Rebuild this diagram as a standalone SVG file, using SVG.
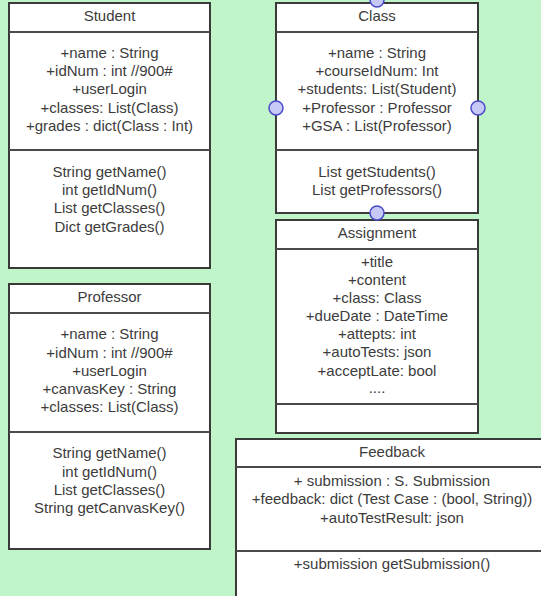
<svg xmlns="http://www.w3.org/2000/svg" width="541" height="596" viewBox="0 0 541 596">
<style>
.bg{fill:#c0f5ca}
.box{fill:#fff;stroke:#3a3a3a;stroke-width:2}
.div{stroke:#4a4a4a;stroke-width:2}
text{font-family:"Liberation Sans",Arial,sans-serif;font-size:15px;fill:#3c3c3c;text-anchor:middle}
.pt{fill:#c6c8f6;stroke:#4a4ac8;stroke-width:1.5}
</style>
<rect class="bg" x="0" y="0" width="541" height="596"/>
<g id="connectors"></g>
<g id="student">
<rect class="box" x="9" y="3" width="201" height="265"/>
<line class="div" x1="9" y1="32" x2="210" y2="32"/>
<line class="div" x1="9" y1="150" x2="210" y2="150"/>
<text x="109.5" y="21">Student</text>
<text x="109.5" y="58">+name : String</text>
<text x="109.5" y="76">+idNum : int //900#</text>
<text x="109.5" y="94">+userLogin</text>
<text x="109.5" y="113">+classes: List(Class)</text>
<text x="109.5" y="131">+grades : dict(Class : Int)</text>
<text x="109.5" y="177">String getName()</text>
<text x="109.5" y="195">int getIdNum()</text>
<text x="109.5" y="213">List getClasses()</text>
<text x="109.5" y="232">Dict getGrades()</text>
</g>
<g id="professor">
<rect class="box" x="9" y="284" width="201" height="265"/>
<line class="div" x1="9" y1="313" x2="210" y2="313"/>
<line class="div" x1="9" y1="432" x2="210" y2="432"/>
<text x="109.5" y="302">Professor</text>
<text x="109.5" y="339">+name : String</text>
<text x="109.5" y="358">+idNum : int //900#</text>
<text x="109.5" y="376">+userLogin</text>
<text x="109.5" y="394">+canvasKey : String</text>
<text x="109.5" y="412">+classes: List(Class)</text>
<text x="109.5" y="458">String getName()</text>
<text x="109.5" y="477">int getIdNum()</text>
<text x="109.5" y="495">List getClasses()</text>
<text x="109.5" y="513">String getCanvasKey()</text>
</g>
<g id="class">
<rect class="box" x="276" y="3" width="202" height="210"/>
<line class="div" x1="276" y1="32" x2="478" y2="32"/>
<line class="div" x1="276" y1="150" x2="478" y2="150"/>
<text x="377" y="21">Class</text>
<text x="377" y="58">+name : String</text>
<text x="377" y="76">+courseIdNum: Int</text>
<text x="377" y="94">+students: List(Student)</text>
<text x="377" y="113">+Professor  : Professor</text>
<text x="377" y="131">+GSA : List(Professor)</text>
<text x="377" y="177">List getStudents()</text>
<text x="377" y="195">List getProfessors()</text>
</g>
<g id="assignment">
<rect class="box" x="276" y="220" width="202" height="213"/>
<line class="div" x1="276" y1="249" x2="478" y2="249"/>
<line class="div" x1="276" y1="404" x2="478" y2="404"/>
<text x="377" y="238">Assignment</text>
<text x="377" y="267">+title</text>
<text x="377" y="285">+content</text>
<text x="377" y="303">+class: Class</text>
<text x="377" y="321">+dueDate : DateTime</text>
<text x="377" y="339">+attepts: int</text>
<text x="377" y="357">+autoTests: json</text>
<text x="377" y="376">+acceptLate: bool</text>
<text x="377" y="393">....</text>
</g>
<g id="feedback">
<rect class="box" x="236" y="439" width="312" height="170"/>
<line class="div" x1="236" y1="467" x2="548" y2="467"/>
<line class="div" x1="236" y1="551" x2="548" y2="551"/>
<text x="392" y="457">Feedback</text>
<text x="392" y="486">+ submission : S. Submission</text>
<text x="392" y="504">+feedback: dict (Test Case : (bool, String))</text>
<text x="392" y="523">+autoTestResult: json</text>
<text x="392" y="569">+submission getSubmission()</text>
</g>
<g id="class-points">
<circle class="pt" cx="377" cy="0" r="7"/>
<circle class="pt" cx="276" cy="108" r="7"/>
<circle class="pt" cx="478" cy="108" r="7"/>
<circle class="pt" cx="377" cy="213" r="7"/>
</g>
</svg>
